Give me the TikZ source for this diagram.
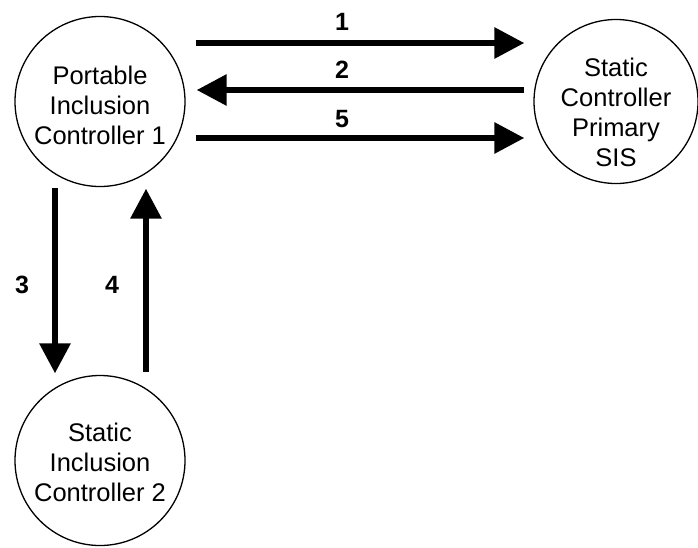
\documentclass[tikz,border=0pt]{standalone}
\usepackage{fontspec}
\setmainfont{Liberation Sans}
\usetikzlibrary{arrows.meta,positioning}

\begin{document}
\begin{tikzpicture}[x=1pt,y=1pt,
    ctrl/.style={circle,draw,line width=1.3pt,minimum size=170pt,inner sep=0pt},
    ctrltext/.style={align=center,inner sep=0pt,font=\fontsize{25.5}{30}\selectfont},
    num/.style={inner sep=0pt,font=\fontsize{25}{30}\selectfont\bfseries},
    flow/.style={line width=6pt,-{Triangle[length=30pt,width=30pt]}}]
      \useasboundingbox (0,0) rectangle (698,-547);

      \node (pic1) [ctrl] at (100,-101.5)                                      {};
      \node (sis)  [ctrl,minimum size=164pt,node distance=516pt,right of=pic1]  {};
      \node (sic2) [ctrl,node distance=359pt,below of=pic1]                     {};

      \node (pic1txt) [ctrltext] at ([yshift=-3.5pt]pic1.center) {Portable\\Inclusion\\Controller 1};
      \node (sistxt)  [ctrltext] at ([yshift=-11pt]sis.center)   {Static\\Controller\\Primary\\SIS};
      \node (sic2txt) [ctrltext] at ([yshift=-2pt]sic2.center)   {Static\\Inclusion\\Controller 2};

      \path[flow] ([yshift=58.5pt]pic1.east)  edge [shorten <=10pt,shorten >=9pt]
                        node [num,pos=0.45,yshift=21pt]  {1} ([yshift=58.5pt]sis.west);
      \path[flow] ([yshift=11.5pt]sis.west)   edge [shorten <=9pt,shorten >=11pt]
                        node [num,pos=0.55,yshift=20pt]  {2} ([yshift=11.5pt]pic1.east);
      \path[flow] ([yshift=-36.5pt]pic1.east) edge [shorten <=10pt,shorten >=9pt]
                        node [num,pos=0.45,yshift=19pt]  {5} ([yshift=-36.5pt]sis.west);
      \path[flow] ([xshift=-45pt]pic1.south)  edge [shorten <=1pt,shorten >=1.5pt]
                        node [num,pos=0.52,xshift=-33pt] {3} ([xshift=-45pt]sic2.north);
      \path[flow] ([xshift=46pt]sic2.north)   edge [shorten <=2.5pt,shorten >=1.5pt]
                        node [num,pos=0.48,xshift=-34pt] {4} ([xshift=46pt]pic1.south);
\end{tikzpicture}
\end{document}
